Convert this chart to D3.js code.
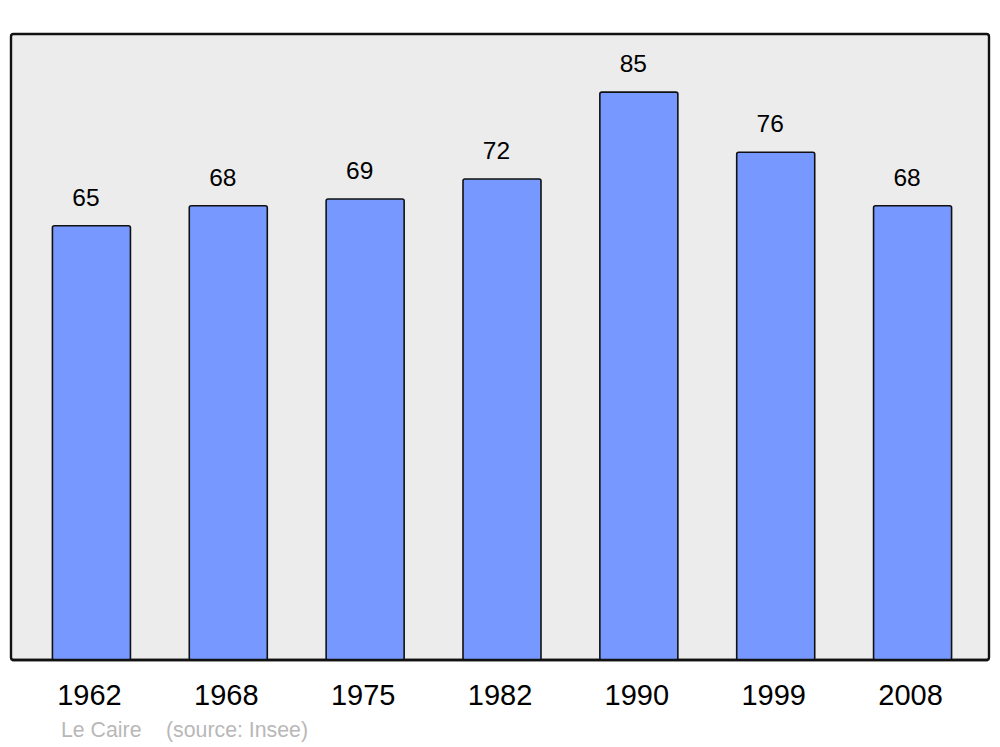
<!DOCTYPE html>
<html>
<head>
<meta charset="utf-8">
<script src="https://cdn.jsdelivr.net/npm/d3@7"></script>
<style>
  html, body { margin: 0; padding: 0; background: #ffffff; }
  svg { display: block; font-family: "Liberation Sans", Arial, sans-serif; }
</style>
</head>
<body>
<svg id="chart" width="1000" height="747"></svg>
<script>
const years = ["1962", "1968", "1975", "1982", "1990", "1999", "2008"];
const population = [65, 68, 69, 72, 85, 76, 68];
const place = "Le Caire";
const source = "(source: Insee)";

const svg = d3.select("#chart");
const panel = { x0: 11, x1: 989, y0: 34, y1: 660 };

svg.append("rect")
  .attr("x", panel.x0).attr("y", panel.y0)
  .attr("width", panel.x1 - panel.x0).attr("height", panel.y1 - panel.y0)
  .attr("rx", 2.5).attr("ry", 2.5)
  .attr("fill", "#ececec").attr("stroke", "#111").attr("stroke-width", 2.4);

const x = d3.scaleBand().domain(years).range([23, 981])
  .paddingInner(0.43).paddingOuter(0.215);
const y = d3.scaleLinear().domain([0, 93.7]).range([panel.y1, panel.y0]);

const data = years.map((yr, i) => ({ year: yr, value: population[i] }));

svg.append("g").selectAll("rect").data(data).join("rect")
  .attr("x", d => x(d.year))
  .attr("y", d => y(d.value))
  .attr("width", x.bandwidth())
  .attr("height", d => y(0) - y(d.value))
  .attr("rx", 2).attr("ry", 2)
  .attr("fill", "#7799ff").attr("stroke", "#111").attr("stroke-width", 1.6);

svg.append("line")
  .attr("x1", panel.x0 + 1).attr("x2", panel.x1 - 1)
  .attr("y1", panel.y1).attr("y2", panel.y1)
  .attr("stroke", "#111").attr("stroke-width", 2.4);

svg.append("g").selectAll("text").data(data).join("text")
  .attr("x", d => x(d.year) + x.bandwidth() / 2 - 5.5)
  .attr("y", d => y(d.value) - 20)
  .attr("text-anchor", "middle")
  .style("font-size", "24.5px")
  .attr("fill", "#000")
  .text(d => d.value);

const xAxis = d3.axisBottom(x).tickSize(0).tickPadding(0);
const gx = svg.append("g").attr("transform", `translate(-2, ${panel.y1})`).call(xAxis);
gx.select(".domain").remove();
gx.selectAll("text")
  .attr("y", 45).attr("dy", 0)
  .style("font-size", "29px")
  .style("font-family", "'Liberation Sans', Arial, sans-serif")
  .attr("fill", "#000");

svg.append("text").attr("x", 61).attr("y", 737)
  .style("font-size", "21.3px").attr("fill", "#b8b8b8").text(place);
svg.append("text").attr("x", 166).attr("y", 737)
  .style("font-size", "21.3px").attr("fill", "#b8b8b8").text(source);
</script>
</body>
</html>
